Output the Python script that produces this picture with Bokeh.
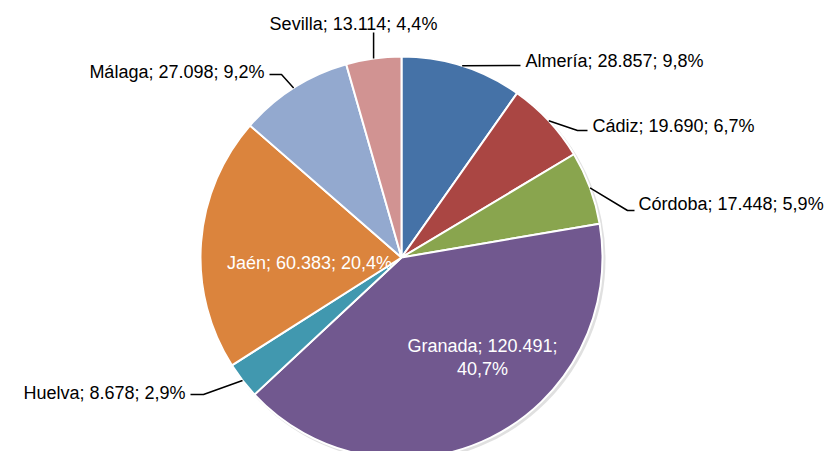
import numpy as np
from bokeh.plotting import figure
from bokeh.models import Range1d, ColumnDataSource
from bokeh.embed import file_html
from bokeh.resources import INLINE
from bokeh.core.properties import value

# ---- data ----
provinces = ["Almería", "Cádiz", "Córdoba", "Granada", "Huelva", "Jaén", "Málaga", "Sevilla"]
counts = [28857, 19690, 17448, 120491, 8678, 60383, 27098, 13114]
count_labels = ["28.857", "19.690", "17.448", "120.491", "8.678", "60.383", "27.098", "13.114"]
pct_labels = ["9,8%", "6,7%", "5,9%", "40,7%", "2,9%", "20,4%", "9,2%", "4,4%"]
colors = ["#4572A7", "#AA4643", "#89A54E", "#71588F", "#4198AF", "#DB843D", "#93A9CF", "#D19392"]

# ---- layout (pixel space, y downwards -> negated) ----
CX, CY, R = 401.0, -257.0, 201.0
FONT = value("Liberation Sans")
FSIZE = "18px"

vals = np.array(counts, dtype=float)
frac = vals / vals.sum()
cum = np.concatenate([[0.0], np.cumsum(frac)])
start = np.pi / 2 - 2 * np.pi * cum[:-1]
end = np.pi / 2 - 2 * np.pi * cum[1:]
mid = (start + end) / 2

p = figure(width=826, height=451, x_range=Range1d(0, 826), y_range=Range1d(-451, 0),
           output_backend="svg", toolbar_location=None, min_border=0)
p.axis.visible = False
p.grid.visible = False
p.outline_line_color = None
p.background_fill_color = "white"
p.border_fill_color = "white"

# soft shadow
p.circle(x=[CX + 2], y=[CY - 2], radius=R + 1, fill_color="#000000", fill_alpha=0.12, line_color=None)

src = ColumnDataSource(dict(start=start, end=end, color=colors))
p.wedge(x=CX, y=CY, radius=R, start_angle="start", end_angle="end", direction="clock",
        fill_color="color", line_color="white", line_width=2, source=src)

labels = [f"{n}; {c}; {q}" for n, c, q in zip(provinces, count_labels, pct_labels)]

# outside labels: leader-line points after the edge point, text anchor, alignment
outside = {
    "Almería": ([(520, 65)], (525, 60), "left"),
    "Cádiz": ([(577, 130), (587, 130)], (592, 125), "left"),
    "Córdoba": ([(627, 210), (634, 210)], (638, 203), "left"),
    "Huelva": ([(203, 394), (190, 394)], (185, 392), "right"),
    "Málaga": ([(281, 74), (269, 74)], (264, 71), "right"),
    "Sevilla": ([(None, 32)], (353, 23), "center"),
}

for i, name in enumerate(provinces):
    if name not in outside:
        continue
    pts, (tx, ty), align = outside[name]
    ex = CX + R * np.cos(mid[i])
    ey = CY + R * np.sin(mid[i])
    xs = [ex]
    ys = [ey]
    for (px, py) in pts:
        xs.append(ex if px is None else px)
        ys.append(-py)
    p.line(xs, ys, line_color="black", line_width=1.5)
    p.text(x=[tx], y=[-ty], text=[labels[i]], text_font=FONT, text_font_size=FSIZE,
           text_align=align, text_baseline="middle", text_color="black")

# inside labels
j = provinces.index("Jaén")
p.text(x=[309], y=[-262], text=[labels[j]], text_font=FONT, text_font_size=FSIZE,
       text_align="center", text_baseline="middle", text_color="white")
g = provinces.index("Granada")
p.text(x=[482, 482], y=[-345, -368],
       text=[f"{provinces[g]}; {count_labels[g]};", pct_labels[g]],
       text_font=FONT, text_font_size=FSIZE, text_align="center", text_baseline="middle",
       text_color="white")

open("out.html", "w").write(file_html(p, INLINE))
